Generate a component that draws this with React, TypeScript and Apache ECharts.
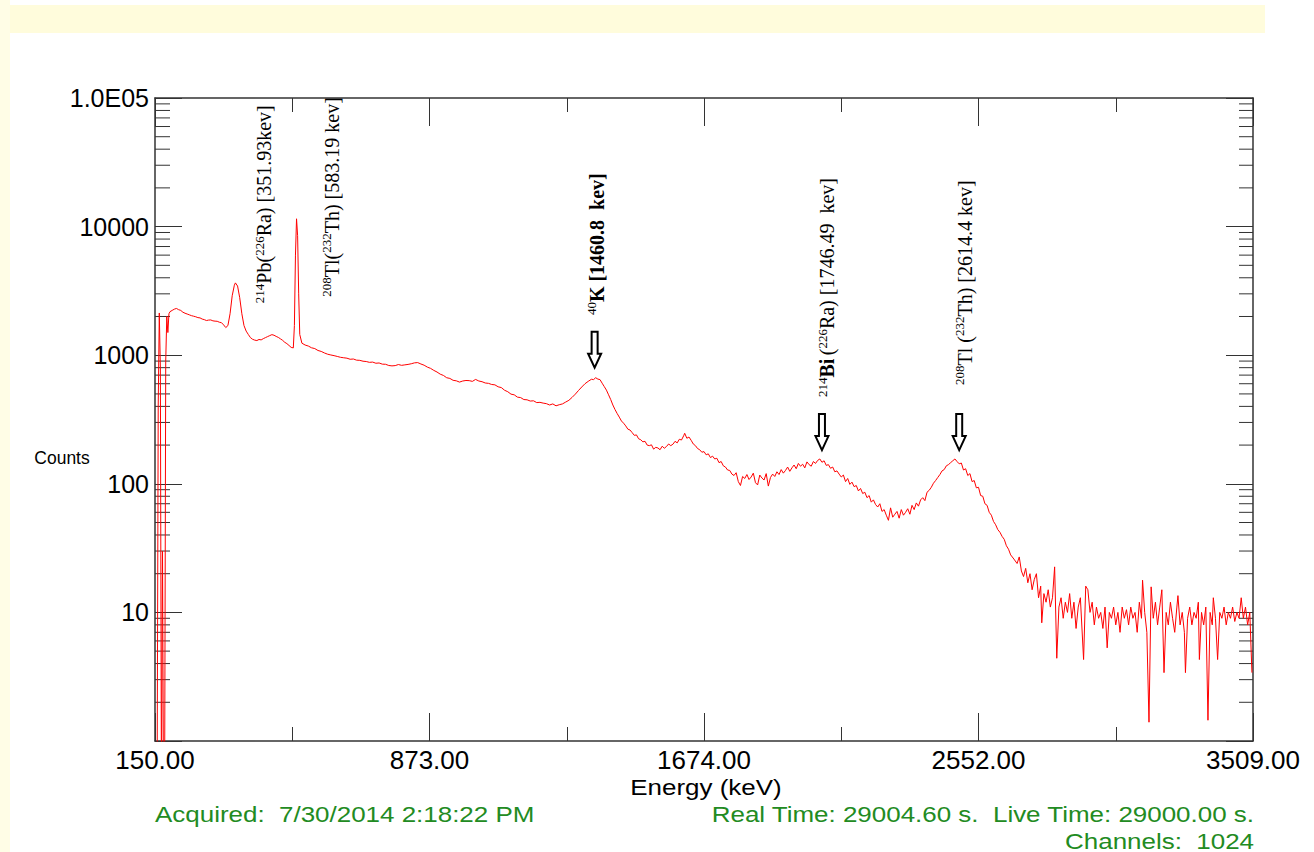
import React, { useEffect, useRef } from "react";
import * as echarts from "echarts";

// ---- axis ticks / labels ----
const xTickChannels = [0, 256, 512, 768, 1024];
const xTickLabels = ["150.00", "873.00", "1674.00", "2552.00", "3509.00"];
const yTickValues = [1, 10, 100, 1000, 10000, 100000];
const yTickLabels = ["", "10", "100", "1000", "10000", "1.0E05"];
const yMinorMantissas = [2, 3, 4, 5, 6, 7, 8, 9];
const yDecades = [1, 10, 100, 1000, 10000];

// ---- spectrum: [channel, counts] ----
const lowEnergyPoints: [number, number][] = [
  [0, 0.4], [2, 0.5], [3, 400], [4, 2130], [5, 800], [6, 0.4], [7, 30], [8, 0.3], [9, 0.5],
  [10, 900], [11, 2000], [12, 1500], [13, 2100], [14, 2180], [16, 2230], [18, 2280], [20, 2310],
  [22, 2260], [24, 2230], [26, 2160], [28, 2120], [30, 2090], [32, 2060], [34, 2030], [36, 2010],
  [38, 1990], [40, 1960], [42, 1950], [44, 1910], [46, 1890], [48, 1860], [50, 1875], [52, 1880],
  [54, 1850], [56, 1840], [58, 1835], [60, 1805], [62, 1790], [64, 1720], [66, 1640], [68, 1700],
  [70, 2100], [72, 2900], [74, 3500], [75, 3650], [77, 3450], [79, 2800], [81, 2100], [83, 1700],
  [85, 1540], [87, 1450], [89, 1370], [91, 1330], [93, 1310], [95, 1300], [97, 1325], [99, 1315],
  [101, 1345], [103, 1370], [105, 1395], [107, 1420], [109, 1445], [111, 1430], [113, 1400],
  [115, 1375], [117, 1340], [119, 1305], [121, 1260], [123, 1230], [125, 1190], [127, 1150],
  [129, 1140], [130, 1700], [131, 6000], [132, 11500], [133, 8500], [134, 3000], [135, 1450],
  [137, 1240],
];

const midEnergyPoints: [number, number][] = [
  [140, 1200], [143, 1178], [146, 1142], [149, 1126], [152, 1088], [155, 1070], [158, 1041], [161, 1018],
  [164, 1004], [167, 992], [170, 978], [173, 963], [176, 955], [179, 948], [182, 930], [185, 934],
  [188, 915], [191, 912], [194, 898], [197, 893], [200, 880], [203, 884], [206, 866], [209, 870],
  [212, 852], [215, 850], [218, 832], [221, 826], [224, 830], [227, 846], [230, 834], [233, 841],
  [236, 848], [239, 858], [242, 872], [245, 876], [248, 854], [251, 836], [254, 808], [257, 790],
  [260, 762], [263, 740], [266, 712], [269, 696], [272, 668], [275, 660], [278, 638], [281, 632],
  [284, 618], [287, 630], [290, 636], [293, 634], [296, 626], [299, 648], [302, 630], [305, 622],
  [308, 608], [311, 604], [314, 592], [317, 588], [320, 568], [323, 560], [326, 534], [329, 520],
  [332, 498], [335, 492], [338, 472], [341, 468], [344, 452], [347, 450], [350, 440], [353, 442],
  [356, 428], [359, 430], [362, 424], [365, 420], [368, 410], [371, 418], [374, 404], [377, 412],
  [380, 418], [383, 432], [386, 446], [389, 470], [392, 498], [395, 532], [398, 566], [401, 600],
  [404, 626], [407, 650], [409, 646], [411, 668], [413, 652], [415, 646], [417, 606], [419, 570],
  [421, 535], [423, 492], [425, 452], [427, 410], [429, 378], [431, 352], [433, 330], [435, 308],
  [437, 296], [439, 282], [441, 266], [443, 262], [445, 250], [447, 238], [449, 240], [451, 224],
  [453, 220], [455, 212], [457, 214], [459, 200], [461, 198], [463, 201], [465, 186], [467, 192],
  [469, 190], [471, 184], [473, 196], [475, 189], [477, 195], [479, 204], [481, 198], [483, 203],
  [485, 214], [487, 208], [489, 222], [491, 219], [493, 236], [494, 247], [496, 226], [498, 231],
  [500, 218], [502, 204], [504, 198], [506, 188], [508, 184], [510, 176], [512, 178], [514, 168],
  [516, 171], [518, 160], [520, 164], [522, 156], [524, 158], [526, 146], [528, 149], [530, 138],
  [532, 135], [534, 128], [536, 127], [538, 119],
];

const highEnergyPoints: [number, number][] = [
  [540, 116], [542, 122], [544, 104], [546, 97], [548, 114], [550, 110], [552, 118], [554, 108],
  [556, 113], [558, 121], [560, 102], [562, 98], [564, 117], [566, 111], [568, 107], [570, 120],
  [572, 96], [574, 112], [576, 119], [578, 114], [580, 124], [582, 118], [584, 129], [586, 121],
  [588, 127], [590, 135], [592, 125], [594, 133], [596, 140], [598, 131], [600, 144], [602, 137],
  [604, 142], [606, 133], [608, 148], [610, 141], [612, 137], [614, 149], [616, 144], [618, 152],
  [620, 156], [622, 147], [624, 151], [626, 139], [628, 141], [630, 132], [632, 135], [634, 124],
  [636, 126], [638, 119], [640, 113], [642, 117], [644, 104], [646, 110], [648, 99], [650, 103],
  [652, 95], [654, 97], [656, 88], [658, 92], [660, 84], [662, 86], [664, 78], [666, 81],
  [668, 72], [670, 75], [672, 69], [674, 66], [676, 70], [678, 61], [680, 63], [682, 57],
  [684, 52], [686, 65], [688, 55], [690, 58], [692, 61], [694, 54], [696, 63], [698, 57],
  [700, 60], [702, 64], [704, 58], [706, 68], [708, 63], [710, 71], [712, 67], [714, 75],
  [716, 78], [718, 74], [720, 86], [722, 89], [724, 94], [726, 101], [728, 106], [730, 112],
  [732, 118], [734, 126], [736, 129], [738, 138], [740, 141], [742, 146], [744, 151], [746, 156],
  [748, 149], [750, 143], [752, 145], [754, 128], [756, 131], [758, 116], [760, 120], [762, 104],
  [764, 106], [766, 93], [768, 94], [770, 81], [772, 80], [774, 70], [776, 68], [778, 60],
  [780, 57], [782, 51], [784, 48], [786, 44], [788, 42], [790, 39], [792, 37], [794, 33],
  [796, 31],
];

const tailPoints: [number, number][] = [
  [798, 28], [801, 26], [804, 24], [806, 27], [808, 21], [810, 19], [812, 22], [814, 17],
  [816, 20], [818, 15], [820, 18], [822, 20], [824, 13], [826, 16], [827, 8.3], [829, 14],
  [831, 12], [833, 15], [835, 11], [837, 13], [839, 22.6], [841, 4.4], [843, 11], [845, 13],
  [847, 9], [849, 12], [851, 10], [853, 14], [855, 9], [857, 12], [859, 7.5], [861, 11],
  [863, 13], [866, 4.3], [868, 16], [870, 15], [872, 10], [874, 12], [876, 8], [878, 11],
  [880, 9], [882, 10], [884, 7.5], [886, 11], [888, 5.3], [890, 10], [892, 9], [894, 11],
  [896, 8], [898, 10], [900, 7], [902, 11], [904, 9], [906, 10.5], [908, 8], [910, 11],
  [912, 9], [914, 10], [916, 7], [918, 12], [920, 9], [921, 17.8], [923, 10], [925, 7],
  [927, 1.4], [929, 15.8], [931, 9], [933, 12], [935, 8], [937, 11], [939, 15], [941, 3.4],
  [943, 10], [945, 8], [947, 12], [949, 9], [951, 7], [953, 11], [954, 13.5], [956, 8],
  [958, 10], [960, 7], [961, 3.4], [963, 9], [965, 11], [967, 8], [969, 10], [971, 9],
  [973, 12], [974, 4.3], [976, 10], [978, 8], [980, 11], [982, 1.45], [984, 10], [986, 8],
  [987, 13], [989, 9], [991, 4.3], [993, 10], [995, 9], [997, 11], [999, 8], [1001, 10],
  [1003, 9], [1005, 11], [1007, 8.5], [1009, 10], [1011, 9], [1013, 13], [1015, 9], [1017, 11],
  [1019, 8], [1021, 10], [1023, 3.4],
];

// ---- peak annotations ----
const peakLabels = [
  "{s|214}{n|Pb(}{s|226}{n|Ra) [351.93kev]}",
  "{s|208}{n|Tl(}{s|232}{n|Th) [583.19 kev]}",
  "{s|40}{b|K [1460.8  kev]}",
  "{s|214}{b|Bi} {n|(}{s|226}{n|Ra) [1746.49  kev]}",
  "{s|208}{n|Tl (}{s|232}{n|Th) [2614.4 kev]}",
];
const peakLabelChannels = [102, 165, 412, 627, 755];
const peakLabelBaseCounts = [2540, 2850, 2050, 473, 587];
const arrowChannels = [410, 622, 750];
const arrowTipCounts = [800, 183, 183];

const axisTitleX = "Energy (keV)";
const axisTitleY = "Counts";
const infoAcquired = "Acquired:  7/30/2014 2:18:22 PM";
const infoTimes = "Real Time: 29004.60 s.  Live Time: 29000.00 s.";
const infoChannels = "Channels:  1024";

export default function App() {
  const ref = useRef<HTMLDivElement>(null);

  useEffect(() => {
    if (!ref.current) return;
    const chart = echarts.init(ref.current, null, { renderer: "svg" });
    const spectrum = [...lowEnergyPoints, ...midEnergyPoints, ...highEnergyPoints, ...tailPoints];
    const minorTicks: [number, number][] = [];
    yDecades.forEach((d) => yMinorMantissas.forEach((m) => minorTicks.push([0, d * m])));

    const axisColor = "#333";
    const sans = "'Liberation Sans', Arial, sans-serif";
    const serif = "'Liberation Serif', 'Times New Roman', serif";
    const fmtX = (v: number) => {
      const i = xTickChannels.indexOf(v);
      return i >= 0 ? xTickLabels[i] : "";
    };
    const fmtY = (v: number) => {
      const i = yTickValues.findIndex((t) => Math.abs(t - v) / t < 1e-6);
      return i >= 0 ? yTickLabels[i] : "";
    };

    const baseX: any = {
      type: "value",
      min: 0,
      max: 1024,
      splitLine: { show: false },
      axisLine: { show: false, onZero: false },
      axisLabel: { show: false },
      axisTick: { show: true, inside: true, length: 14, lineStyle: { color: axisColor, width: 1 } },
    };
    const frameLine = { show: true, onZero: false, lineStyle: { color: axisColor, width: 1.5 } };
    const baseY: any = {
      type: "log",
      logBase: 10,
      min: 1,
      max: 100000,
      splitLine: { show: false },
      axisLine: frameLine,
      axisTick: { show: true, inside: true, length: 27, lineStyle: { color: axisColor, width: 1 } },
    };

    chart.setOption({
      animation: false,
      backgroundColor: "#ffffff",
      grid: { left: 155, right: 61, top: 98, bottom: 111, containLabel: false },
      xAxis: [
        {
          ...baseX,
          position: "bottom",
          interval: 256,
          axisLine: frameLine,
          axisTick: { ...baseX.axisTick, length: 28 },
          axisLabel: { show: true, formatter: fmtX, fontSize: 26, color: "#000", fontFamily: sans, margin: 6 },
        },
        { ...baseX, position: "bottom", interval: 128 },
        { ...baseX, position: "top", interval: 256, axisLine: frameLine, axisTick: { ...baseX.axisTick, length: 28 } },
        { ...baseX, position: "top", interval: 128 },
      ],
      yAxis: [
        {
          ...baseY,
          position: "left",
          axisLabel: { show: true, formatter: fmtY, fontSize: 25, color: "#000", fontFamily: sans, margin: 6 },
        },
        { ...baseY, position: "right", axisLabel: { show: false } },
      ],
      series: [
        {
          type: "line",
          data: spectrum,
          xAxisIndex: 0,
          yAxisIndex: 0,
          symbol: "none",
          silent: true,
          clip: true,
          lineStyle: { color: "#ff0000", width: 1 },
        },
        {
          type: "custom",
          xAxisIndex: 0,
          yAxisIndex: 0,
          data: minorTicks,
          encode: { x: 0, y: 1 },
          silent: true,
          clip: false,
          renderItem: (params: any, api: any) => {
            const v = api.value(1);
            const pL = api.coord([0, v]);
            const pR = api.coord([1024, v]);
            return {
              type: "group",
              children: [
                { type: "line", shape: { x1: pL[0], y1: pL[1], x2: pL[0] + 15, y2: pL[1] }, style: { stroke: axisColor, lineWidth: 1 } },
                { type: "line", shape: { x1: pR[0] - 14, y1: pR[1], x2: pR[0], y2: pR[1] }, style: { stroke: axisColor, lineWidth: 1 } },
              ],
            };
          },
        },
      ],
    });

    const toPx = (ch: number, c: number) =>
      chart.convertToPixel({ xAxisIndex: 0, yAxisIndex: 0 }, [ch, c]) as number[];

    const rich = {
      n: { fontSize: 20, fontFamily: serif, fill: "#000", lineHeight: 23 },
      b: { fontSize: 20, fontFamily: serif, fontWeight: "bold", fill: "#000", lineHeight: 23 },
      s: { fontSize: 13, fontFamily: serif, fill: "#000", verticalAlign: "top" },
    };

    const labelEls = peakLabels.map((t, i) => {
      const p = toPx(peakLabelChannels[i], peakLabelBaseCounts[i]);
      return {
        type: "text",
        x: p[0],
        y: p[1],
        rotation: Math.PI / 2,
        silent: true,
        style: { text: t, rich, align: "left", verticalAlign: "middle", fill: "#000" },
      };
    });

    const arrowEls = arrowChannels.map((ch, i) => {
      const p = toPx(ch, arrowTipCounts[i]);
      const tx = p[0];
      const ty = p[1];
      return {
        type: "polygon",
        silent: true,
        shape: {
          points: [
            [tx - 3, ty - 36], [tx - 3, ty - 14], [tx - 6.5, ty - 14], [tx, ty],
            [tx + 6.5, ty - 14], [tx + 3, ty - 14], [tx + 3, ty - 36],
          ],
        },
        style: { fill: "#ffffff", stroke: "#000", lineWidth: 2 },
      };
    });

    const green = "#228b22";
    const mkText = (text: string, x: number, y: number, size: number, fill: string, align: string, scaleX: number) => ({
      type: "text",
      silent: true,
      x,
      y,
      scaleX,
      style: { text, fontSize: size, fontFamily: sans, fill, align, verticalAlign: "middle" },
    });

    chart.setOption({
      graphic: [
        { type: "rect", silent: true, z: -1, shape: { x: 10, y: 5, width: 1255, height: 28 }, style: { fill: "#fffcdc" } },
        { type: "rect", silent: true, z: -1, shape: { x: 0, y: 0, width: 10, height: 852 }, style: { fill: "#fffde6" } },
        mkText(axisTitleY, 62, 457, 19, "#000", "center", 0.92),
        mkText(axisTitleX, 706, 787, 22, "#000", "center", 1.18),
        mkText(infoAcquired, 155, 814, 22, green, "left", 1.18),
        mkText(infoTimes, 1254, 814, 22, green, "right", 1.18),
        mkText(infoChannels, 1254, 841, 22, green, "right", 1.18),
        ...labelEls,
        ...arrowEls,
      ],
    });

    return () => chart.dispose();
  }, []);

  return (
    <div
      ref={ref}
      style={{ position: "absolute", left: 0, top: 0, width: 1314, height: 852, background: "#fff" }}
    />
  );
}
